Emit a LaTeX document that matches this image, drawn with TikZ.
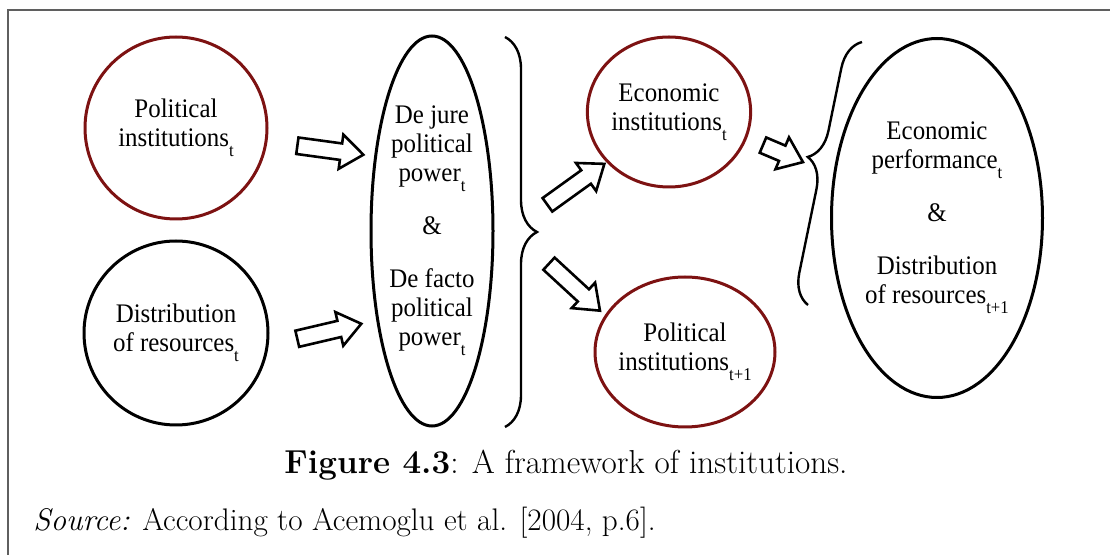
\documentclass[tikz,border=0pt]{standalone}
\usepackage{fontspec}
\newfontfamily\tnr[FakeStretch=0.93]{Liberation Serif}
\usetikzlibrary{shapes.geometric,shapes.arrows,decorations.pathreplacing,calc}
\definecolor{ringred}{RGB}{125,18,18}
\definecolor{framegray}{RGB}{95,95,95}
% lowered index as in the original figure
\newcommand{\lowidx}[1]{\raisebox{-5pt}{\fontsize{9}{9}\selectfont #1}}
% hollow block arrow between two named points
\newcommand{\blockarrow}[2]{%
  \path let \p1=($(#2)-(#1)$), \n1={atan2(\y1,\x1)}, \n2={veclen(\x1,\y1)} in
    node[hollowarrow, rotate=\n1, minimum height=\n2] at ($(#1)!0.5!(#2)$) {};}
\begin{document}
\begin{tikzpicture}[x=0.5pt, y=-0.5pt,
    ring/.style={ellipse, draw, line width=1.5pt, align=center, inner sep=0pt,
      font=\tnr\fontsize{13.4}{14.5}\selectfont},
    redring/.style={ring, draw=ringred},
    hollowarrow/.style={single arrow, draw, fill=white, line width=1.3pt,
      inner xsep=0pt, inner ysep=3.5pt, minimum width=0pt,
      single arrow head extend=4.5pt, single arrow tip angle=75,
      single arrow head indent=0pt},
    curly/.style={decorate, line width=1.2pt}]
    \useasboundingbox (0,0) rectangle (1110,555);
    % frame
    \draw[framegray, line width=0.75pt] (1110,10) -- (8,10) -- (8,555);
    % left column
    \node[redring, minimum width=91pt, minimum height=91pt] (polinst) at (176,128)
      {Political\\institutions\lowidx{t}};
    \node[ring, minimum width=92pt, minimum height=92pt] (distres) at (176,333)
      {Distribution\\of resources\lowidx{t}};
    % political power
    \node[ring, minimum width=61pt, minimum height=195pt] (power) at (432,231)
      {De jure\\political\\power\lowidx{t}\\[12pt]\&\\[12pt]De facto\\political\\power\lowidx{t}};
    % middle column
    \node[redring, minimum width=76pt, minimum height=75pt] (ecoinst) at (669,112)
      {Economic\\institutions\lowidx{t}};
    \node[redring, inner sep=-3pt, minimum width=90pt, minimum height=75pt] (polnext) at (685,352)
      {Political\\institutions\lowidx{t+1}};
    % outcome
    \node[ring, minimum width=105.5pt, minimum height=179.5pt] (outcome) at (937,218)
      {Economic\\performance\lowidx{t}\\[12pt]\&\\[12pt]Distribution\\of resources\lowidx{t+1}};
    % braces
    \draw[curly, decoration={brace, amplitude=16pt}] (505,37) -- (505,427);
    \draw[curly, decoration={brace, amplitude=15pt, aspect=0.54}] (808,305) -- (862,42);
    % arrow ends
    \coordinate (a1s) at (292,145);
    \coordinate (a1e) at (358,154);
    \coordinate (a2s) at (292,340);
    \coordinate (a2e) at (356,325);
    \coordinate (a3s) at (543,208);
    \coordinate (a3e) at (600,167);
    \coordinate (a4s) at (545,260);
    \coordinate (a4e) at (596,307);
    \coordinate (a5s) at (758,143);
    \coordinate (a5e) at (798,160);
    \blockarrow{a1s}{a1e}
    \blockarrow{a2s}{a2e}
    \blockarrow{a3s}{a3e}
    \blockarrow{a4s}{a4e}
    \blockarrow{a5s}{a5e}
    % caption
    \node[anchor=base, font=\fontsize{16.6}{19}\selectfont] (caption) at (566,474)
      {\textbf{Figure 4.3}: A framework of institutions.};
    \node[anchor=base west, inner sep=0pt, font=\fontsize{15.6}{18}\selectfont] (source) at (33,531)
      {\textit{Source:} According to Acemoglu et al. [2004, p.6].};
\end{tikzpicture}
\end{document}
